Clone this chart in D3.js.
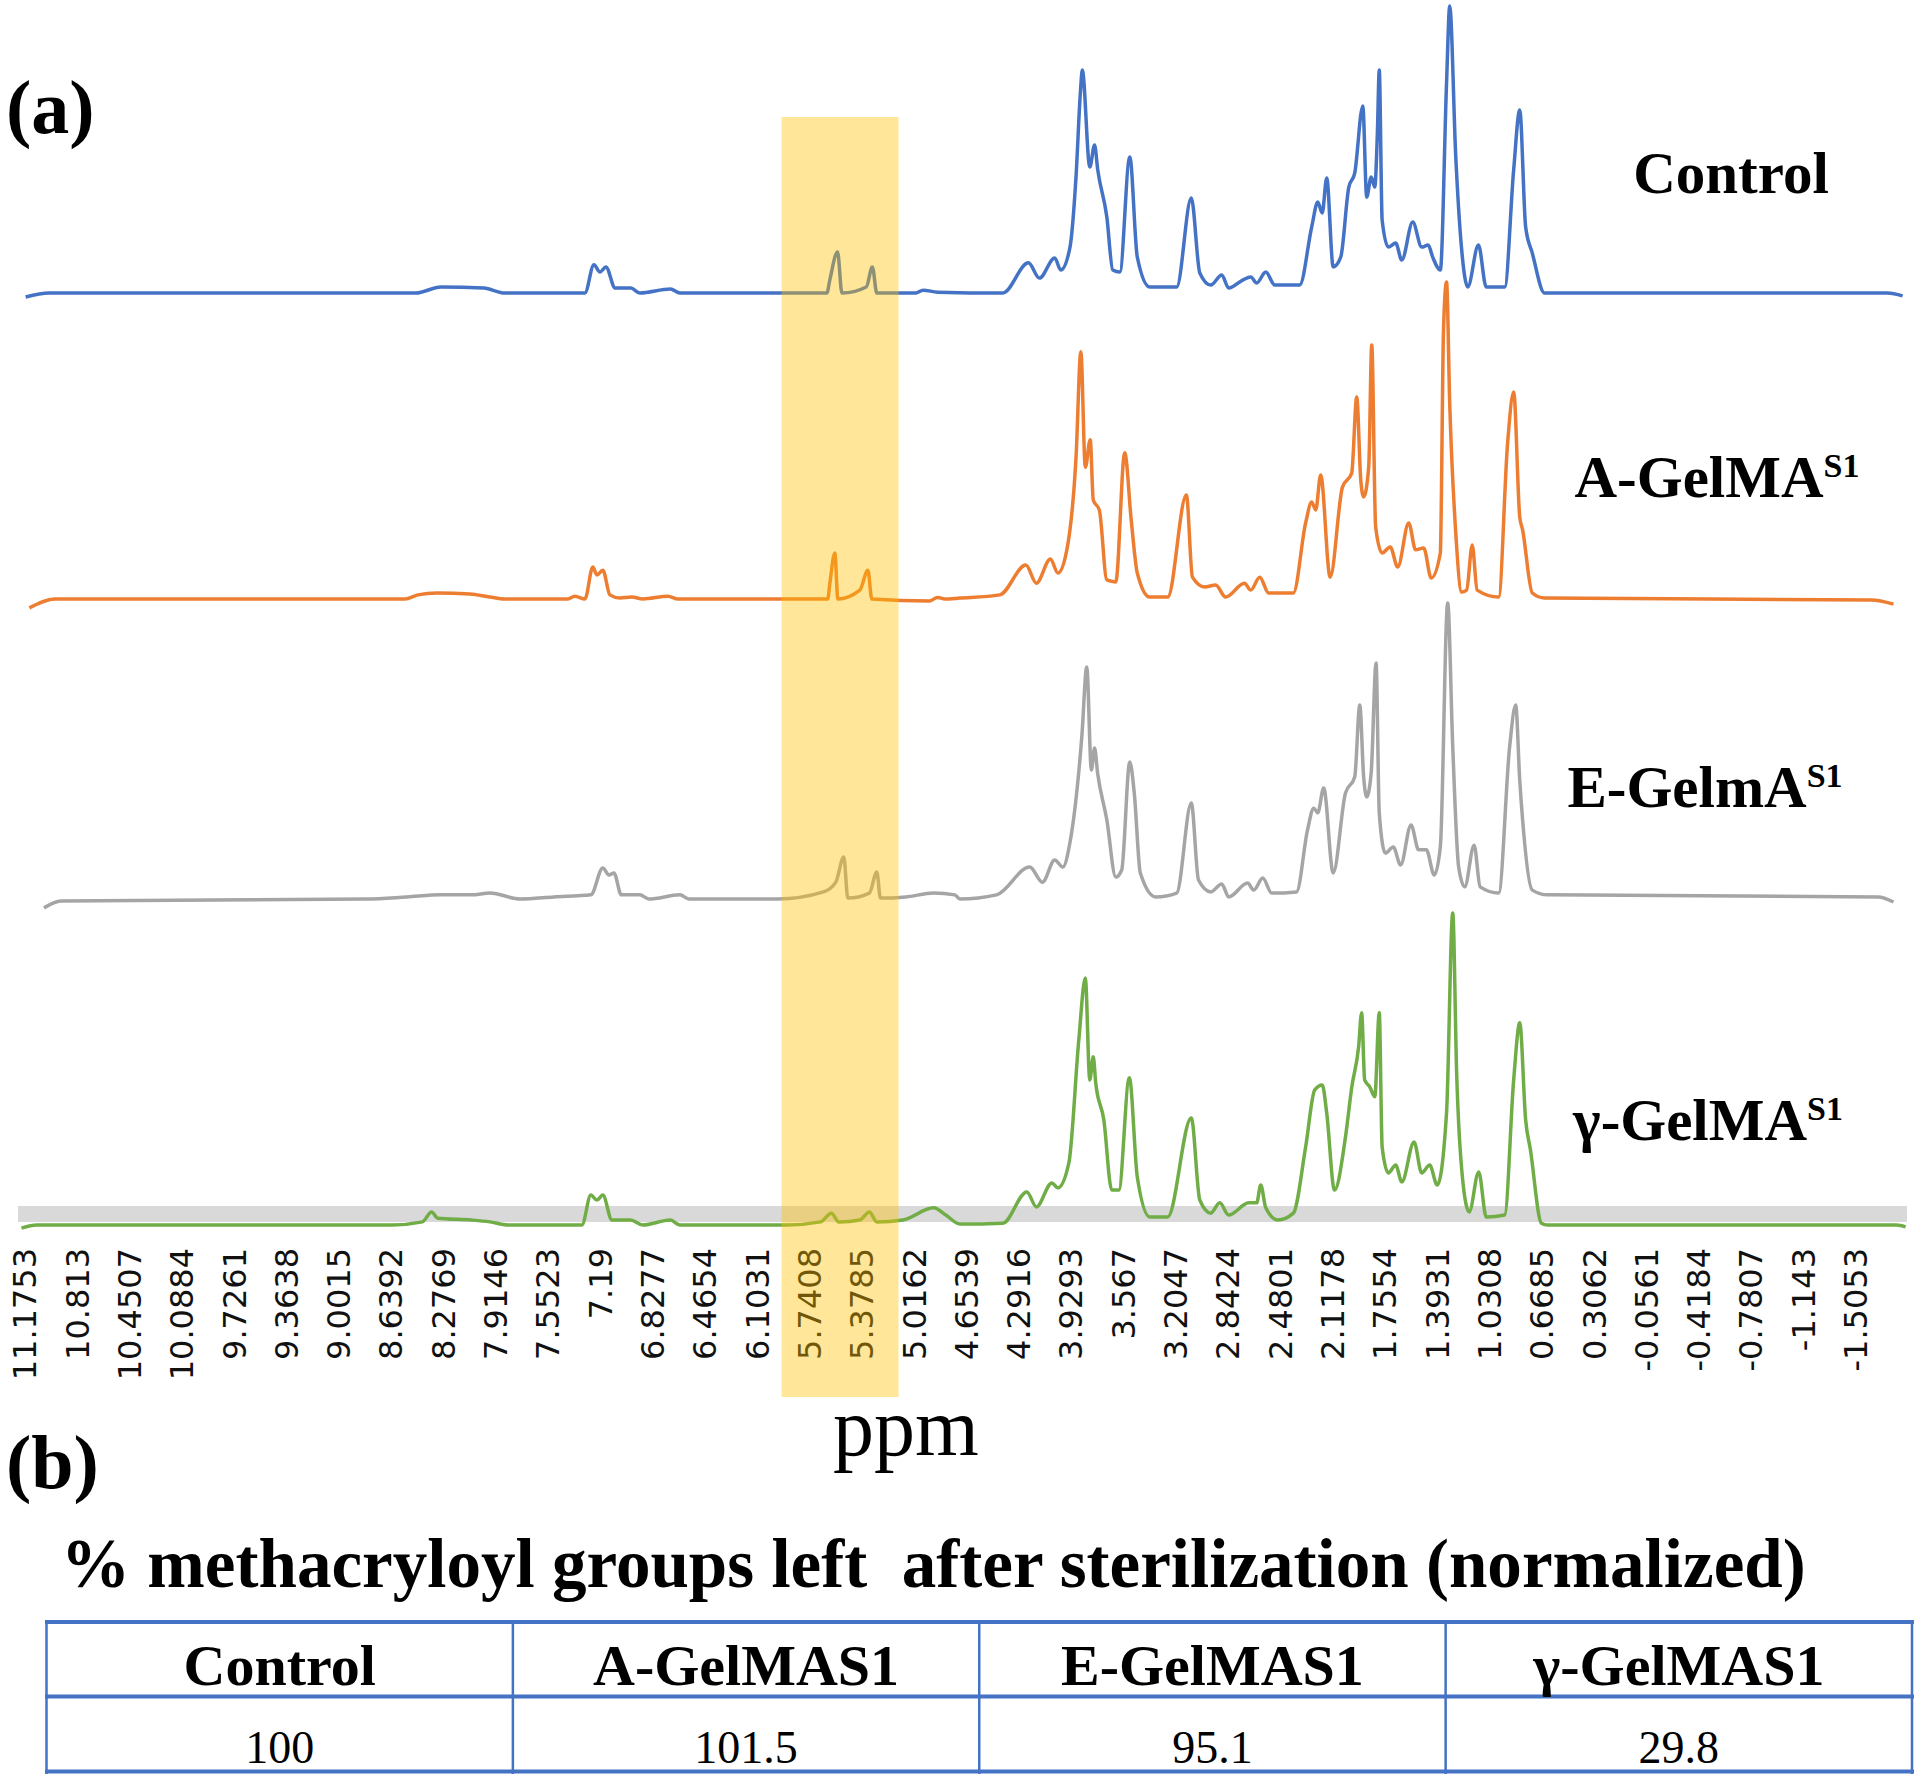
<!DOCTYPE html>
<html>
<head>
<meta charset="utf-8">
<script src="https://cdn.jsdelivr.net/npm/d3@7"></script>
<style>
  body { margin: 0; background: #fff; }
  svg text { font-family: "Liberation Serif", "Times New Roman", serif; fill: #000; }
  .axis text { font-family: "DejaVu Sans", Verdana, sans-serif; font-size: 32px; fill: #111; }
</style>
</head>
<body>
<div id="chart"></div>
<script>
// 1H NMR spectra, [ppm, relative intensity] (tallest peak = 100)
const controlSpec = [[11.166,-1.4],[11.004,0],[8.463,0],[8.29,2.1],[7.992,1.7],[7.846,0],[7.292,0],[7.23,9.8],[7.188,7.3],[7.147,9.1],[7.082,1.7],[6.974,1.7],[6.912,0],[6.7,1.4],[6.634,0],[5.616,0],[5.596,4.5],[5.542,14.3],[5.512,0],[5.343,2.1],[5.301,9.1],[5.27,0],[5.0,0],[4.95,1],[4.85,0.3],[4.397,0],[4.22,10.5],[4.144,5.2],[4.038,12.2],[3.996,8],[3.933,15.7],[3.891,40],[3.86,70],[3.847,77.7],[3.795,43.9],[3.762,51.6],[3.74,42.9],[3.677,26.5],[3.636,8],[3.587,7.3],[3.518,47.4],[3.466,12.5],[3.38,2.1],[3.193,2.1],[3.092,33.1],[3.033,7],[2.957,2.8],[2.881,6.3],[2.833,1.7],[2.736,4.5],[2.68,5.6],[2.639,3.5],[2.576,7.3],[2.514,2.8],[2.341,2.8],[2.258,23],[2.216,31.7],[2.185,27.9],[2.154,40.1],[2.109,9.1],[2.057,12.5],[2.001,36.9],[1.96,41.8],[1.904,65.2],[1.877,33.4],[1.846,40.4],[1.821,36.9],[1.803,55.7],[1.79,77.7],[1.77,25.4],[1.727,16],[1.676,17.4],[1.634,11.5],[1.558,24.7],[1.496,16],[1.451,16.7],[1.42,12.5],[1.367,8],[1.324,73],[1.302,100],[1.26,47.4],[1.219,15],[1.177,2.1],[1.103,16.7],[1.049,2.1],[0.921,2.1],[0.859,42.9],[0.817,63.8],[0.776,23],[0.73,13.9],[0.645,0],[-1.731,0],[-1.835,-1]];

const aGelmaSpec = [[11.14,-2.8],[10.963,0],[8.539,0],[8.449,1.3],[8.318,1.9],[8.089,1.6],[7.95,0.6],[7.846,0],[7.41,0],[7.362,0.9],[7.292,0],[7.237,10.1],[7.209,7.6],[7.168,9.1],[7.119,1.3],[7.05,0.3],[6.967,0.6],[6.891,0],[6.717,0.9],[6.648,0],[5.61,0],[5.596,4.7],[5.561,14.5],[5.54,0],[5.388,2.8],[5.332,9.1],[5.305,0],[4.903,-0.6],[4.85,0.5],[4.799,0],[4.695,0.3],[4.418,1.3],[4.238,10.7],[4.165,5],[4.068,12.6],[4.016,8.2],[3.954,15.5],[3.89,45],[3.857,78],[3.826,41.6],[3.792,50.2],[3.771,31.2],[3.729,28.1],[3.677,6],[3.615,5.4],[3.553,46.1],[3.508,24.9],[3.466,8.2],[3.38,0.6],[3.255,0.6],[3.126,32.8],[3.084,6.9],[2.999,3.8],[2.923,4.4],[2.854,0.6],[2.724,5],[2.68,2.8],[2.618,6.9],[2.556,1.9],[2.385,1.9],[2.3,24],[2.258,30.6],[2.23,28.1],[2.196,39.1],[2.13,6.9],[2.045,35.3],[1.981,39.7],[1.946,63.7],[1.918,37.5],[1.898,32.2],[1.863,41.6],[1.842,80.1],[1.815,22.7],[1.77,14.5],[1.714,16.4],[1.662,10.1],[1.586,24],[1.538,15.5],[1.482,16.1],[1.43,6.6],[1.367,14.5],[1.345,84.9],[1.324,100],[1.302,61.8],[1.26,20.8],[1.219,2.2],[1.185,2.8],[1.146,17],[1.112,2.8],[0.963,0.6],[0.901,49.2],[0.859,65.3],[0.817,25.9],[0.797,21.8],[0.73,1.9],[0.645,0.3],[-1.62,-0.3],[-1.772,-1.6]];

const eGelmaSpec = [[11.039,-3],[10.921,-0.7],[8.802,0],[8.525,0.7],[8.29,1.4],[8.078,1.4],[7.95,2],[7.739,0],[7.507,0.7],[7.251,1.4],[7.168,10.5],[7.126,8.1],[7.091,8.8],[7.04,1.4],[6.912,1.4],[6.849,0],[6.634,1.4],[6.572,0],[5.956,0],[5.64,2.4],[5.554,5.7],[5.499,14.2],[5.471,0.3],[5.322,2],[5.27,9.1],[5.245,0.3],[5.069,0.7],[4.876,2],[4.73,1.4],[4.695,0],[4.441,1.4],[4.211,10.8],[4.123,5.7],[4.038,13.2],[3.982,10.8],[3.933,18.9],[3.85,55],[3.816,78.4],[3.784,43.6],[3.762,51],[3.741,42.6],[3.677,26.7],[3.615,7.4],[3.574,9.8],[3.518,46.3],[3.487,35.8],[3.445,8.8],[3.338,0.7],[3.193,2],[3.092,32.4],[3.042,6.4],[2.957,2.4],[2.881,5.1],[2.833,0.7],[2.702,5.4],[2.659,3],[2.597,7.1],[2.535,2],[2.363,2.4],[2.287,23.3],[2.244,30.7],[2.216,29.1],[2.175,37.5],[2.109,8.8],[2.024,35.8],[1.96,41.2],[1.925,65.5],[1.898,41.2],[1.877,34.5],[1.846,42.6],[1.812,79.7],[1.79,29.1],[1.748,15.5],[1.693,17.6],[1.642,11.5],[1.57,25],[1.517,16.6],[1.464,16.6],[1.409,8.1],[1.367,17.6],[1.316,100],[1.281,51.4],[1.24,10.8],[1.198,4.1],[1.133,18.2],[1.091,4.1],[0.963,2],[0.887,51.4],[0.845,65.5],[0.817,40.2],[0.797,26.7],[0.73,3],[0.624,1.4],[-1.665,0.7],[-1.772,-1]];

const gGelmaSpec = [[11.195,-1],[11.089,0],[8.629,0],[8.418,1],[8.354,4.2],[8.312,2.2],[8.078,1.6],[7.95,1],[7.826,0],[7.313,0],[7.251,9.6],[7.209,8],[7.168,9.6],[7.105,1.6],[6.976,1.6],[6.891,0],[6.7,1.6],[6.634,0],[5.893,0],[5.661,1],[5.585,3.8],[5.533,1],[5.388,1.6],[5.322,4.2],[5.27,1],[5.09,1.6],[4.876,5.5],[4.793,3.2],[4.695,0.3],[4.397,0.6],[4.231,10.6],[4.165,5.8],[4.058,13.5],[4.016,11.9],[3.94,19.9],[3.871,59.4],[3.826,79.2],[3.795,46.5],[3.771,53.9],[3.754,45.6],[3.698,33.7],[3.643,11.2],[3.594,11.2],[3.521,47.2],[3.466,15.4],[3.38,2.6],[3.255,2.6],[3.092,34.3],[3.033,8],[2.957,3.8],[2.895,7.1],[2.833,3.2],[2.694,7.1],[2.639,7.1],[2.611,12.8],[2.576,5.5],[2.493,1.6],[2.385,3.8],[2.3,25],[2.237,43.3],[2.185,44.9],[2.154,35.9],[2.1,11.2],[2.024,28.2],[1.981,44],[1.933,57.1],[1.912,68],[1.891,46.5],[1.856,44.3],[1.821,41.1],[1.79,68],[1.77,25],[1.727,16.7],[1.676,19.2],[1.634,13.8],[1.549,26.6],[1.496,16.7],[1.441,19.2],[1.388,12.8],[1.324,35.9],[1.281,100],[1.254,48.8],[1.212,14.4],[1.167,4.2],[1.101,17],[1.049,2.6],[0.921,3.2],[0.859,46.5],[0.817,64.8],[0.776,33.7],[0.743,24.1],[0.667,0.6],[0.624,0],[-1.793,0],[-1.856,-0.6]];

const seriesNames = ["Control", "A-GelMA", "E-GelmA", "γ-GelMA"];
const seriesSup = ["", "S1", "S1", "S1"];
const seriesColors = ["#4472C4", "#ED7D31", "#A5A5A5", "#70AD47"];

const tickLabels = ["11.1753","10.813","10.4507","10.0884","9.7261","9.3638","9.0015","8.6392","8.2769","7.9146","7.5523","7.19","6.8277","6.4654","6.1031","5.7408","5.3785","5.0162","4.6539","4.2916","3.9293","3.567","3.2047","2.8424","2.4801","2.1178","1.7554","1.3931","1.0308","0.6685","0.3062","-0.0561","-0.4184","-0.7807","-1.143","-1.5053"];

const highlightRange = [5.93, 5.12]; // ppm band with methacryloyl vinyl protons

const tableTitle = "% methacryloyl groups left  after sterilization (normalized)";
const tableHeaders = ["Control", "A-GelMAS1", "E-GelMAS1", "γ-GelMAS1"];
const tableValues = ["100", "101.5", "95.1", "29.8"];

const width = 1920, height = 1782;
const svg = d3.select("#chart").append("svg")
    .attr("width", width).attr("height", height);
svg.append("rect").attr("width", width).attr("height", height).attr("fill", "#fff");

const x = d3.scaleLinear().domain([11.1753, -1.5053]).range([24.3, 1855]);

// stacked panels: baseline and top pixel of each spectrum, plus its label spot
const panels = [
  { data: controlSpec, base: 293, top: 6, lx: 1731, ly: 193 },
  { data: aGelmaSpec, base: 599, top: 282, lx: 1717, ly: 497 },
  { data: eGelmaSpec, base: 899, top: 603, lx: 1705, ly: 807 },
  { data: gGelmaSpec, base: 1225, top: 913, lx: 1708, ly: 1140 }
];

// light grey strip under the bottom trace
svg.append("rect").attr("x", 18).attr("y", 1206)
    .attr("width", 1889).attr("height", 16).attr("fill", "#d9d9d9");

panels.forEach(function(p, i) {
  const y = d3.scaleLinear().domain([0, 100]).range([p.base, p.top]);
  const line = d3.line().x(d => x(d[0])).y(d => y(d[1])).curve(d3.curveMonotoneX);
  svg.append("path").datum(p.data)
      .attr("d", line)
      .attr("fill", "none")
      .attr("stroke", seriesColors[i])
      .attr("stroke-width", 3.5)
      .attr("stroke-linejoin", "round");

  const t = svg.append("text")
      .attr("x", p.lx).attr("y", p.ly)
      .attr("text-anchor", "middle")
      .style("font-weight", "bold").style("font-size", "59px")
      .text(seriesNames[i]);
  if (seriesSup[i]) {
    t.append("tspan").attr("dy", -20).style("font-size", "34px").text(seriesSup[i]);
  }
});

// x axis, rotated category-style labels
const axis = d3.axisBottom(x)
    .tickValues(tickLabels.map(Number))
    .tickFormat((d, i) => tickLabels[i])
    .tickSize(0);
const gx = svg.append("g").attr("class", "axis").attr("transform", "translate(0,1248)").call(axis);
gx.select(".domain").remove();
gx.selectAll("text")
    .attr("x", 0).attr("y", 0).attr("dy", "0.36em")
    .attr("transform", "rotate(-90)")
    .style("text-anchor", "end")
    .attr("font-size", null).attr("font-family", null);

// highlighted ppm window over everything
svg.append("rect")
    .attr("x", x(highlightRange[0])).attr("y", 117)
    .attr("width", x(highlightRange[1]) - x(highlightRange[0])).attr("height", 1280)
    .attr("fill", "#FFC000").attr("opacity", 0.4);

svg.append("text").attr("x", 6).attr("y", 133)
    .style("font-weight", "bold").style("font-size", "76px").text("(a)");
svg.append("text").attr("x", 906).attr("y", 1455).attr("text-anchor", "middle")
    .style("font-size", "82px").text("ppm");
svg.append("text").attr("x", 6).attr("y", 1488)
    .style("font-weight", "bold").style("font-size", "76px").text("(b)");

// (b) table
const title = svg.append("text").attr("x", 61).attr("y", 1587)
    .style("font-weight", "bold").style("font-size", "64px")
    .style("white-space", "pre").text(tableTitle);
const tw = title.node().getComputedTextLength();
title.style("font-size", (64 * 1745 / tw).toFixed(2) + "px");

const col = d3.scaleBand().domain(tableHeaders).range([46.5, 1912]);
const tbl = svg.append("g");
[1622, 1696.5, 1771.5].forEach(function(yy) {
  tbl.append("line").attr("x1", 45).attr("x2", 1914).attr("y1", yy).attr("y2", yy)
      .attr("stroke", "#4472C4").attr("stroke-width", 4);
});
tableHeaders.concat(["end"]).forEach(function(h, i) {
  const xx = i < tableHeaders.length ? col(h) : col.range()[1];
  tbl.append("line").attr("x1", xx).attr("x2", xx).attr("y1", 1620).attr("y2", 1774)
      .attr("stroke", "#4472C4").attr("stroke-width", 2.5);
});
tbl.selectAll("text.head").data(tableHeaders).join("text")
    .attr("class", "head")
    .attr("x", d => col(d) + col.bandwidth() / 2).attr("y", 1685)
    .attr("text-anchor", "middle")
    .style("font-weight", "bold").style("font-size", "58px")
    .text(d => d);
tbl.selectAll("text.val").data(tableValues).join("text")
    .attr("class", "val")
    .attr("x", (d, i) => col(tableHeaders[i]) + col.bandwidth() / 2).attr("y", 1763)
    .attr("text-anchor", "middle")
    .style("font-size", "46px")
    .text(d => d);
</script>
</body>
</html>
